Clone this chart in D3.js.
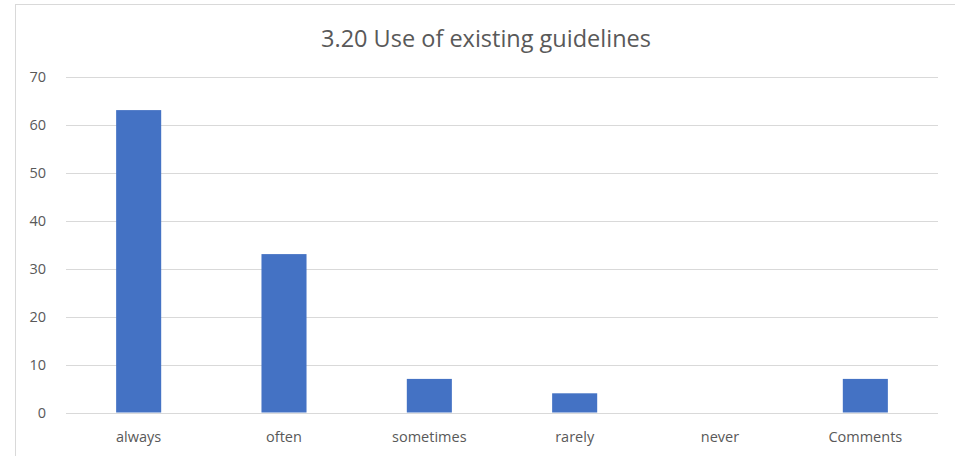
<!DOCTYPE html>
<html>
<head>
<meta charset="utf-8">
<script src="https://cdn.jsdelivr.net/npm/d3@7"></script>
<style>
  html, body { margin: 0; padding: 0; background: #fff; }
  svg { display: block; }
  text { font-family: "Open Sans", "Noto Sans", sans-serif; fill: #595959; }
</style>
</head>
<body>
<svg id="chart" width="955" height="456"></svg>
<script>
const categories = ["always", "often", "sometimes", "rarely", "never", "Comments"];
const values = [63, 33, 7, 4, 0, 7];
const yTicks = [0, 10, 20, 30, 40, 50, 60, 70];
const title = "3.20 Use of existing guidelines";

const svg = d3.select("#chart");
const W = 955, H = 456;
const m = { left: 66, right: 938, top: 76.5, bottom: 412.5 };

// chart frame
svg.append("rect")
  .attr("x", 15.5).attr("y", 4.5)
  .attr("width", W).attr("height", H)
  .attr("fill", "none").attr("stroke", "#d9d9d9").attr("stroke-width", 1);

const x = d3.scaleBand().domain(categories).range([m.left, m.right]).paddingInner(0.69).paddingOuter(0.345);
const y = d3.scaleLinear().domain([0, 70]).range([m.bottom, m.top]);

// gridlines
svg.append("g").selectAll("line").data(yTicks).join("line")
  .attr("x1", m.left).attr("x2", m.right)
  .attr("y1", d => Math.round(y(d)) + 0.5).attr("y2", d => Math.round(y(d)) + 0.5)
  .attr("stroke", "#d9d9d9").attr("stroke-width", 1);

// y axis labels
svg.append("g").selectAll("text").data(yTicks).join("text")
  .attr("x", 46).attr("y", d => y(d))
  .attr("dy", "0.35em").attr("text-anchor", "end")
  .attr("font-size", 14.5).text(d => d);

// bars
svg.append("g").selectAll("rect").data(values).join("rect")
  .attr("x", (d, i) => x(categories[i]))
  .attr("width", x.bandwidth())
  .attr("y", d => y(d))
  .attr("height", d => y(0) - y(d))
  .attr("fill", "#4472C4");

// category labels
svg.append("g").selectAll("text").data(categories).join("text")
  .attr("x", d => x(d) + x.bandwidth() / 2).attr("y", 442)
  .attr("text-anchor", "middle").attr("font-size", 14.5).text(d => d);

// title
svg.append("text")
  .attr("x", 486).attr("y", 47)
  .attr("text-anchor", "middle").attr("font-size", 23.5).text(title);
</script>
</body>
</html>
